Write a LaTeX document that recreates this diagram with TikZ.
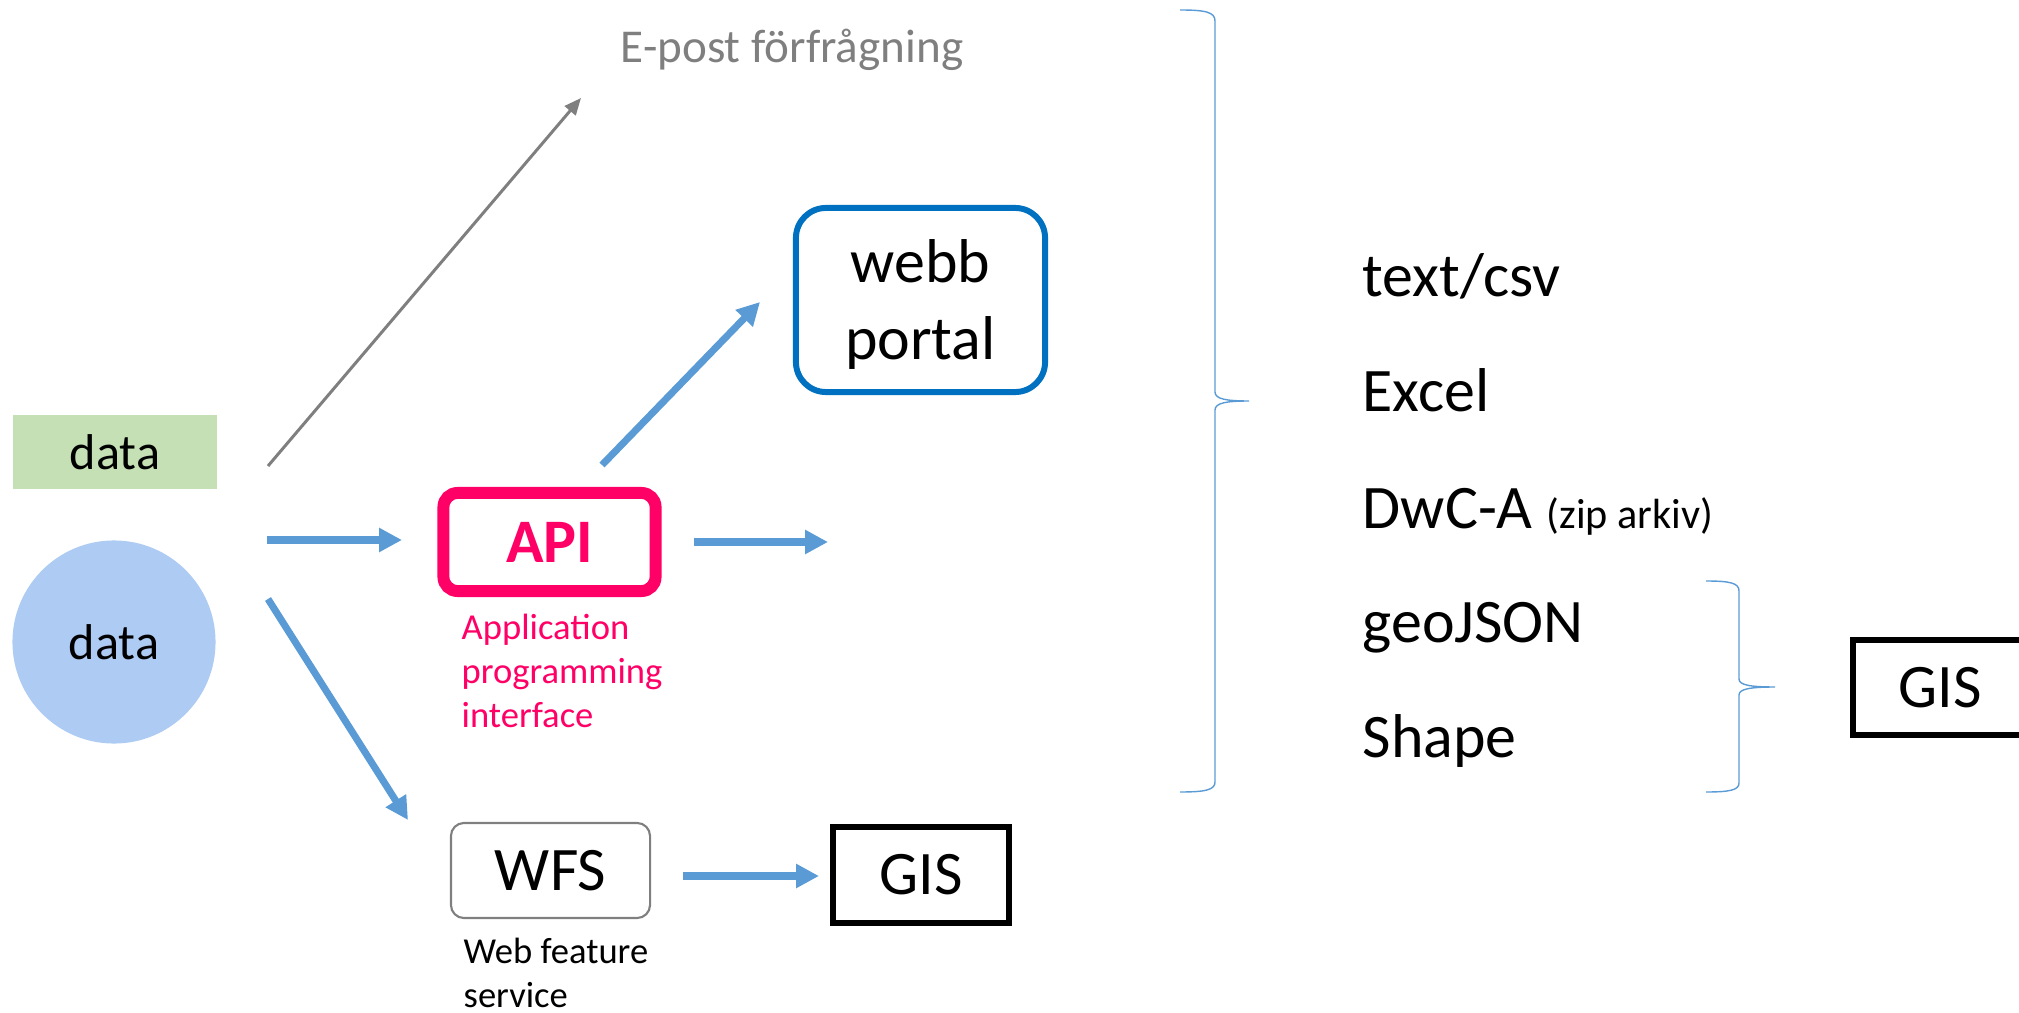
\documentclass[tikz,border=0pt]{standalone}
\usepackage{fontspec}
\setmainfont{Carlito}
\usetikzlibrary{arrows.meta}

\definecolor{flowblue}{RGB}{91,155,213}
\definecolor{datagreen}{RGB}{197,224,180}
\definecolor{datablue}{RGB}{174,203,243}
\definecolor{apipink}{RGB}{255,0,102}
\definecolor{portalblue}{RGB}{0,112,192}
\definecolor{mailgray}{RGB}{127,127,127}

\begin{document}
\begin{tikzpicture}[x=0.01cm, y=-0.01cm,
  flow/.style={draw=flowblue, line width=2pt, -{Triangle[length=6.5pt,width=6.5pt]}},
  mail/.style={draw=mailgray, line width=0.85pt, -{Triangle[length=4.8pt,width=4pt]}},
  bigtxt/.style={font=\fontsize{17.6}{21.9}\selectfont},
  captxt/.style={font=\fontsize{10.4}{12.5}\selectfont, align=left, inner sep=0pt},
  fmt/.style={anchor=base west, inner sep=0pt, bigtxt},
  gisbox/.style={draw, line width=1.7pt, inner sep=0pt, minimum width=1.76cm, minimum height=0.96cm, bigtxt},
  curly/.style={draw=flowblue, line width=0.4pt}]

  \useasboundingbox (0,0) rectangle (2019,1013);

  % Data sources
  \node (datarect) at (115,452) [fill=datagreen, inner sep=0pt, minimum width=2.04cm, minimum height=0.74cm,
    font=\fontsize{14.3}{17}\selectfont] {data};
  \node (datacirc) at (114,642) [circle, fill=datablue, inner sep=0pt, minimum size=2.03cm,
    font=\fontsize{14.3}{17}\selectfont] {data};

  % E-mail request
  \node (mailtxt) at (620,63) [anchor=base west, inner sep=0pt, text=mailgray,
    font=\fontsize{13.4}{16}\selectfont] {E-post förfrågning};
  \coordinate (mailfrom) at (268,466);
  \coordinate (mailto) at (581,98);
  \draw[mail] (mailfrom) -- (mailto);

  % API
  \node (api) at (549.5,542) [draw=apipink, line width=3.4pt, rounded corners=4pt, inner sep=0pt,
    minimum width=2.12cm, minimum height=0.98cm, text=apipink, bigtxt] {\textbf{API}};
  \node (apitxt) at (461,727) [anchor=base west, text=apipink, captxt] {Application\\programming\\interface};
  \coordinate (apifrom) at (267,540);
  \coordinate (apito) at (402,540);
  \draw[flow] (apifrom) -- (apito);

  % Web portal
  \node (portal) at (920.5,300) [draw=portalblue, line width=1.7pt, rounded corners=0.3cm, inner sep=0pt,
    minimum width=2.49cm, minimum height=1.84cm, text depth=0pt, align=center, bigtxt] {webb\\portal};
  \coordinate (portalfrom) at (602,465);
  \coordinate (portalto) at (760,302);
  \draw[flow] (portalfrom) -- (portalto);

  % API output
  \coordinate (outfrom) at (694,542);
  \coordinate (outto) at (828,542);
  \draw[flow] (outfrom) -- (outto);

  % WFS
  \node (wfs) at (550.5,870.5) [draw=mailgray, line width=0.6pt, rounded corners=0.13cm, inner sep=0pt,
    minimum width=1.99cm, minimum height=0.95cm, bigtxt] {WFS};
  \node (wfstxt) at (463,1007) [anchor=base west, captxt] {Web feature\\service};
  \coordinate (wfsfrom) at (268,599);
  \coordinate (wfsto) at (408,820);
  \draw[flow] (wfsfrom) -- (wfsto);

  % GIS from WFS
  \node (gisleft) at (921,875) [gisbox] {GIS};
  \coordinate (gisfrom) at (683,876);
  \coordinate (gisto) at (819,876);
  \draw[flow] (gisfrom) -- (gisto);

  % Formats
  \node (csv) at (1362,297) [fmt] {text/csv};
  \node (excel) at (1362,412) [fmt] {Excel};
  \node (dwca) at (1362,528) [fmt] {DwC-A {\fontsize{12}{14}\selectfont (zip arkiv)}};
  \node (geojson) at (1362,642) [fmt] {geoJSON};
  \node (shape) at (1362,757) [fmt] {Shape};

  % Big brace
  \draw[curly] (1180,10) .. controls (1205,10) and (1215,12) .. (1215,21)
    -- (1215,392) .. controls (1215,399) and (1226,401) .. (1249,401)
    .. controls (1226,401) and (1215,403) .. (1215,410)
    -- (1215,782) .. controls (1215,790) and (1205,792) .. (1180,792);

  % Small brace
  \draw[curly] (1706,581) .. controls (1730,581) and (1739,583) .. (1739,591)
    -- (1739,679) .. controls (1739,685) and (1750,687) .. (1775,687)
    .. controls (1750,687) and (1739,689) .. (1739,695)
    -- (1739,783) .. controls (1739,790) and (1730,792) .. (1706,792);

  % GIS from files
  \node (gisright) at (1940,687.5) [gisbox, minimum width=1.74cm, minimum height=0.95cm] {GIS};

\end{tikzpicture}
\end{document}
